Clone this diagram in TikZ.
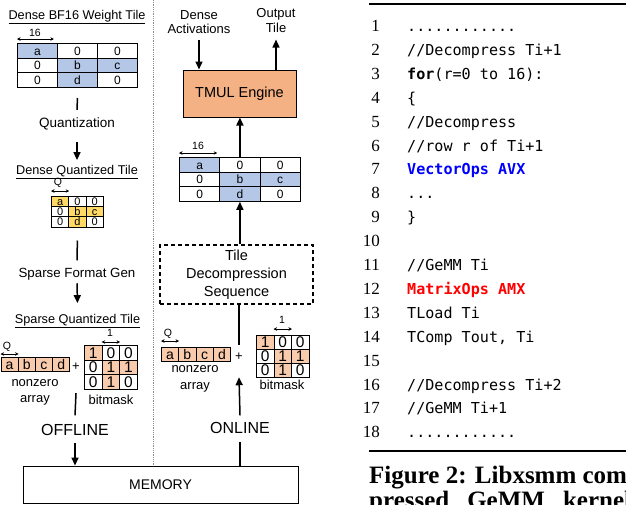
\documentclass[tikz,border=0pt]{standalone}
\usepackage{fontspec}
\setmainfont{Liberation Sans}
\newfontfamily\codefont{DejaVu Sans Mono}
\newfontfamily\numfont{Liberation Serif}
\usetikzlibrary{
		positioning,
		arrows.meta
	}
\definecolor{bfblue}{RGB}{180,199,231}
\definecolor{qgold}{RGB}{255,217,102}
\definecolor{sppeach}{RGB}{248,203,173}
\definecolor{tmulorange}{RGB}{244,177,131}
\definecolor{sepgray}{RGB}{140,140,140}
\tikzset{
		>=stealth,
		flow/.style={-{Triangle[width=7pt,length=8pt]}, line width=1.5pt},
		flowline/.style={line width=1.5pt},
		dim/.style={{Stealth[length=3.5pt,width=3.5pt]}-{Stealth[length=3.5pt,width=3.5pt]}, line width=0.8pt},
		box/.style={draw, line width=0.9pt, inner sep=0pt},
		bfcell/.style={box, anchor=north west, minimum width=40pt, minimum height=14.7pt, text height=8.6pt, text depth=0pt, font=\fontsize{12}{14}\selectfont},
		qcell/.style={box, anchor=north west, minimum width=17.3pt, minimum height=10.2pt, text height=7.6pt, text depth=0pt, font=\fontsize{11}{12}\selectfont},
		acell/.style={box, anchor=north west, fill=sppeach, minimum width=17.2pt, minimum height=14.2pt, text height=10pt, text depth=0pt, font=\fontsize{14}{16}\selectfont},
		mcell/.style={box, anchor=north west, minimum width=17.6pt, minimum height=14.6pt, text height=11pt, text depth=0pt, font=\fontsize{15.5}{17}\selectfont},
		ttl/.style={anchor=base, inner sep=0pt, font=\fontsize{12.7}{14}\selectfont},
		lbl/.style={anchor=base, inner sep=0pt, font=\fontsize{13}{14.5}\selectfont},
		small/.style={anchor=base, inner sep=0pt, font=\fontsize{10.5}{12}\selectfont},
		mode/.style={anchor=base, inner sep=0pt, font=\fontsize{16}{18}\selectfont},
		codeline/.style={anchor=base west, inner sep=0pt, font=\codefont\fontsize{15.1}{20}\selectfont},
		lineno/.style={anchor=base east, inner sep=0pt, font=\numfont\fontsize{17}{20}\selectfont},
		capline/.style={anchor=base west, inner sep=0pt, font=\numfont\bfseries\fontsize{25}{28}\selectfont}
	}

\begin{document}
\begin{tikzpicture}[x=1pt, y=-1pt]
	\useasboundingbox (0,0) rectangle (626,504);
	% offline: dense tile -> quantized tile -> sparse format
	\node[ttl] (t1) at (77,19.5) {\underline{Dense BF16 Weight Tile}};
	\foreach \cx/\ry/\val/\col in {0/0/a/bfblue,1/0/0/white,2/0/0/white,0/1/0/white,1/1/b/bfblue,2/1/c/bfblue,0/2/0/white,1/2/d/bfblue,2/2/0/white}
		\node[bfcell, fill=\col] (w\cx\ry) at ({17+40*\cx},{43+14.7*\ry}) {\val};
	\node[small] (w16) at (35,36.8) {16};
	\draw[dim] ([yshift=4pt]w00.north west) -- ([shift={(-4pt,4pt)}]w00.north east);
	\node[lbl, font=\fontsize{13.5}{15}\selectfont] (quant) at (77,127.8) {Quantization};
	\draw[flowline] ([yshift=-10pt]w12.south) -- ([yshift=8pt]quant.north);
	\node[ttl] (t2) at (77,174.5) {\underline{Dense Quantized Tile}};
	\draw[flow] ([yshift=-11.4pt]quant.south) -- ([yshift=5pt]t2.north);
	\node[small] (qq) at (58,185.8) {Q};
	\foreach \cx/\ry/\val/\col in {0/0/a/qgold,1/0/0/white,2/0/0/white,0/1/0/white,1/1/b/qgold,2/1/c/qgold,0/2/0/white,1/2/d/qgold,2/2/0/white}
		\node[qcell, fill=\col] (q\cx\ry) at ({51+17.3*\cx},{196+10.2*\ry}) {\val};
	\draw[dim] ([yshift=5pt]q00.north west) -- ([yshift=5pt]q00.north east);
	\node[lbl, font=\fontsize{13.3}{15}\selectfont] (sfg) at (77,277.8) {Sparse Format Gen};
	\draw[flowline] ([yshift=-13pt]q12.south) -- ([yshift=8pt]sfg.north);
	\node[ttl] (t3) at (77.5,323.5) {\underline{Sparse Quantized Tile}};
	\draw[flow] ([yshift=-2.5pt]sfg.south) -- ([yshift=11pt]t3.north);
	% offline nonzero array + bitmask
	\node[small] (lq) at (7,349.8) {Q};
	\foreach \cx/\val in {0/a,1/b,2/c,3/d}
		\node[acell] (la\cx) at ({0.5+17.2*\cx},357) {\val};
	\draw[dim] ([yshift=3pt]la0.north west) -- ([yshift=3pt]la0.north east);
	\node[lbl] (lplus) at (76,370.6) {+};
	\node[small] (l1) at (110,336.8) {1};
	\foreach \cx/\ry/\val/\col in {0/0/1/sppeach,1/0/0/white,2/0/0/white,0/1/0/white,1/1/1/sppeach,2/1/1/sppeach,0/2/0/white,1/2/1/sppeach,2/2/0/white}
		\node[mcell, fill=\col] (lm\cx\ry) at ({84+17.6*\cx},{345+14.6*\ry}) {\val};
	\draw[dim] ([yshift=3pt]lm10.north west) -- ([yshift=3pt]lm10.north east);
	\node[lbl] (lnz) at (35,386.6) {nonzero}; \node[lbl] (lar) at (35,402.6) {array};
	\node[lbl] (lbm) at (111,404.6) {bitmask};
	\node[mode] (offl) at (75,435.7) {OFFLINE};
	\draw[flowline] ([yshift=-22.4pt]lplus.south) -- ([yshift=9pt]offl.north);
	% memory and divider
	\node[box, minimum width=275pt, minimum height=37pt, font=\fontsize{14}{16}\selectfont] (mem) at (160.5,484.5) {MEMORY};
	\draw[flow] ([yshift=-7.3pt]offl.south) -- (offl.south |- mem.north);
	\draw[sepgray, line width=0.8pt, densely dotted] (153,0) -- (153,0 |- mem.north);
	% online: sparse format -> decompression -> TMUL
	\node[lbl, anchor=center, align=center] (da) at (199,22) {Dense\\Activations};
	\node[lbl, anchor=center, align=center] (ot) at (276,20.5) {Output\\Tile};
	\node[box, line width=1pt, fill=tmulorange, minimum width=113pt, minimum height=47pt, font=\fontsize{14.5}{16}\selectfont] (tmul) at (239.5,93.5) {TMUL Engine};
	\draw[flow] ([yshift=-6pt]da.south) -- (da.south |- tmul.north);
	\draw[flow] (ot.south |- tmul.north) -- ([yshift=-7pt]ot.south);
	\node[small] (o16) at (198,149.8) {16};
	\foreach \cx/\ry/\val/\col in {0/0/a/bfblue,1/0/0/white,2/0/0/white,0/1/0/white,1/1/b/bfblue,2/1/c/bfblue,0/2/0/white,1/2/d/bfblue,2/2/0/white}
		\node[bfcell, fill=\col, minimum width=40.3pt] (ob\cx\ry) at ({179+40.3*\cx},{157+14.6*\ry}) {\val};
	\draw[dim] ([yshift=4pt]ob00.north west) -- ([shift={(-3pt,4pt)}]ob00.north east);
	\draw[flow] (ob10.north) -- (ob10.north |- tmul.south);
	\node[box, line width=1.1pt, dash pattern=on 4pt off 3pt, minimum width=153pt, minimum height=59pt, align=center, font=\fontsize{14.5}{18}\selectfont] (decomp) at (236.5,274.5) {Tile\\Decompression\\Sequence};
	\draw[flow] (ob12.south |- decomp.north) -- (ob12.south);
	% online nonzero array + bitmask
	\node[small] (oq) at (168,336.8) {Q};
	\foreach \cx/\val in {0/a,1/b,2/c,3/d}
		\node[acell] (oa\cx) at ({161+17.3*\cx},347) {\val};
	\draw[dim] ([yshift=6pt]oa0.north west) -- ([yshift=6pt]oa0.north east);
	\node[lbl] (oplus) at (239,360.6) {+};
	\node[small] (o1) at (282,323.8) {1};
	\foreach \cx/\ry/\val/\col in {0/0/1/sppeach,1/0/0/white,2/0/0/white,0/1/0/white,1/1/1/sppeach,2/1/1/sppeach,0/2/0/white,1/2/1/sppeach,2/2/0/white}
		\node[mcell, fill=\col, minimum height=14pt] (om\cx\ry) at ({256+17.5*\cx},{335+14*\ry}) {\val};
	\draw[dim] ([yshift=6pt]om10.north west) -- ([yshift=6pt]om10.north east);
	\node[lbl] (onz) at (195,372.6) {nonzero}; \node[lbl] (oar) at (195,389.6) {array};
	\node[lbl] (obm) at (282,389.6) {bitmask};
	\draw[flowline] ([yshift=8pt]oplus.north) -- (oplus.north |- decomp.south);
	\node[mode] (onl) at (240,433.7) {ONLINE};
	\draw[flow] ([yshift=7pt]onl.north) -- ([yshift=-16.4pt]oplus.south);
	\draw[flowline] (onl.south |- mem.north) -- ([yshift=-8pt]onl.south);
	% kernel listing
	\draw[line width=1.3pt] (369,4) -- (630,4); \draw[line width=1.3pt] (369,451) -- (630,451);
	\foreach \i in {1,...,18}
		\node[lineno] (n\i) at (380,{31.5+23.9*(\i-1)}) {\i};
	\node[codeline] (c1) at (407,31.5) {............};
	\node[codeline] (c2) at (407,55.4) {//Decompress Ti+1};
	\node[codeline] (c3) at (407,79.3) {\textbf{for}(r=0 to 16):};
	\node[codeline] (c4) at (407,103.2) {\{};
	\node[codeline] (c5) at (407,127.1) {//Decompress};
	\node[codeline] (c6) at (407,151) {//row r of Ti+1};
	\node[codeline, text=blue] (c7) at (407,174.9) {\textbf{VectorOps AVX}};
	\node[codeline] (c8) at (407,198.8) {...};
	\node[codeline] (c9) at (407,222.7) {\}};
	\node[codeline] (c11) at (407,270.5) {//GeMM Ti};
	\node[codeline, text=red] (c12) at (407,294.4) {\textbf{MatrixOps AMX}};
	\node[codeline] (c13) at (407,318.3) {TLoad Ti};
	\node[codeline] (c14) at (407,342.2) {TComp Tout, Ti};
	\node[codeline] (c16) at (407,390) {//Decompress Ti+2};
	\node[codeline] (c17) at (407,413.9) {//GeMM Ti+1};
	\node[codeline] (c18) at (407,437.8) {............};
	\node[capline] (cap1) at (369,483) {Figure 2: Libxsmm com};
	\node[capline] (cap2) at (369,508) {pressed\hspace{18pt}GeMM\hspace{18pt}kernel};
\end{tikzpicture}
\end{document}
